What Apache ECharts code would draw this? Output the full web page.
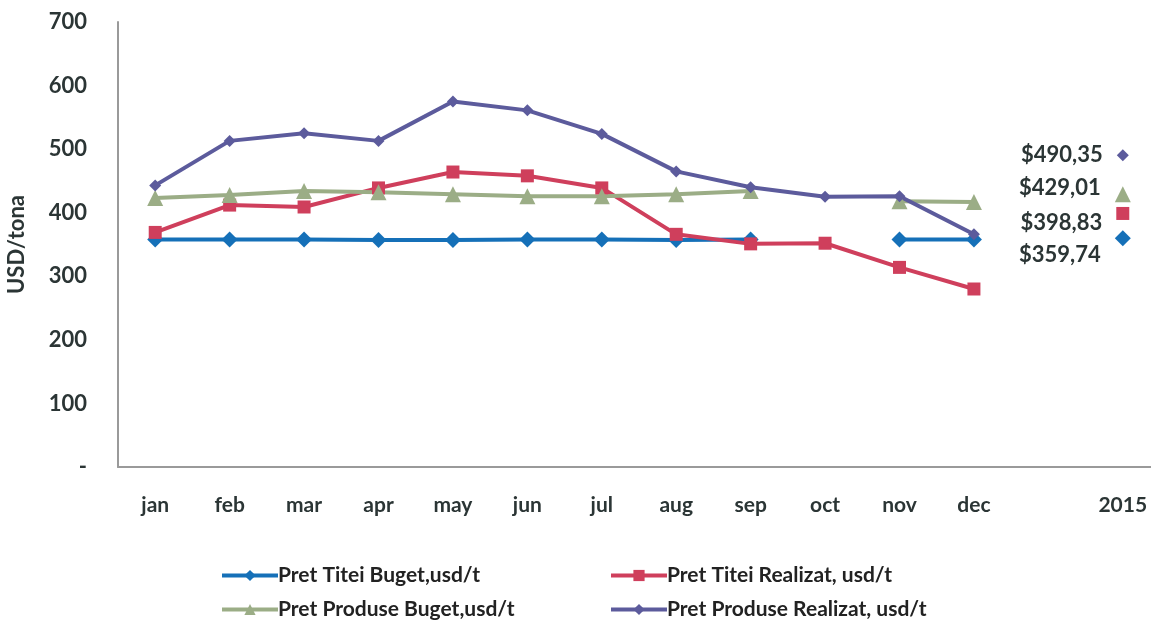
<!DOCTYPE html>
<html><head><meta charset="utf-8">
<script src="https://cdn.jsdelivr.net/npm/echarts@6/dist/echarts.min.js"></script>
<style>html,body{margin:0;padding:0;background:#fff}#c{width:1151px;height:623px}</style>
</head><body><div id="c"></div>
<script>
const categories = ['jan','feb','mar','apr','may','jun','jul','aug','sep','oct','nov','dec','','2015'];
const yTicks = ['-','100','200','300','400','500','600','700'];
const titeiBuget = [358,358,358,357,357,358,358,357,358,null,358,358,null,359.74];
const titeiRealizat = [369,412,409,439,464,458,439,366,351,352,314,280,null,398.83];
const produseBuget = [423,428,434,432,429,426,426,429,434,null,418,417,null,429.01];
const produseRealizat = [443,513,525,513,575,561,524,465,440,425,426,366,null,490.35];
const seriesNames = ['Pret Titei Buget,usd/t','Pret Titei Realizat, usd/t','Pret Produse Buget,usd/t','Pret Produse Realizat, usd/t'];

const FONT = 'Lato';
const TXT = '#2b3535';
function withLabel(arr, offsetY){
  return arr.map((v,i)=> i===arr.length-1 ? {value:v, label:{show:true, position:'left', distance:14, offset:[0,offsetY],
    formatter: p => '$' + p.value.toFixed(2).replace('.', ','), fontFamily:FONT, fontWeight:'bold', fontSize:22, color:TXT}} : v);
}
const chart = echarts.init(document.getElementById('c'));
const mk = (name, data, color, symbol, size) => ({
  name, type:'line', data, connectNulls:false, symbol, symbolSize:size,
  lineStyle:{color, width:4}, itemStyle:{color}, emphasis:{disabled:true}, z: 2
});
chart.setOption({
  animation:false,
  grid:{left:118, top:22, width:1042, height:445, outerBoundsMode:'none', containLabel:false},
  xAxis:{type:'category', data:categories, boundaryGap:true,
    axisLine:{lineStyle:{color:'#9a9a9a', width:2}}, axisTick:{show:false},
    axisLabel:{margin:28, fontFamily:FONT, fontWeight:'bold', fontSize:21, color:TXT, interval:0}},
  yAxis:{type:'value', min:0, max:700, interval:100, name:'USD/tona', nameLocation:'middle', nameGap:90,
    nameTextStyle:{fontFamily:FONT, fontWeight:'bold', fontSize:22, color:TXT},
    axisLine:{show:true, lineStyle:{color:'#9a9a9a', width:2}}, axisTick:{show:false}, splitLine:{show:false},
    axisLabel:{margin:31, fontFamily:FONT, fontWeight:'bold', fontSize:22, color:TXT,
      formatter:(v)=> yTicks[Math.round(v/100)]}},
  legend:[
    {data:[seriesNames[0]], left:215, top:560},
    {data:[seriesNames[1]], left:604, top:560},
    {data:[seriesNames[2]], left:215, top:594},
    {data:[seriesNames[3]], left:604, top:594}
  ].map(l=>Object.assign(l,{itemWidth:56, itemHeight:14, itemGap:2, lineStyle:{width:4},
      textStyle:{fontFamily:FONT, fontWeight:'bold', fontSize:21, color:'#222', padding:[0,0,0,-5]}})),
  series:[
    mk(seriesNames[0], withLabel(titeiBuget,17), '#1570b8', 'diamond', 16),
    mk(seriesNames[1], withLabel(titeiRealizat,9), '#cf3f5c', 'rect', 13),
    mk(seriesNames[2], withLabel(produseBuget,-6), '#9bad86', 'triangle', 16),
    mk(seriesNames[3], withLabel(produseRealizat,0), '#5c5b9c', 'diamond', 12)
  ]
});
</script></body></html>
